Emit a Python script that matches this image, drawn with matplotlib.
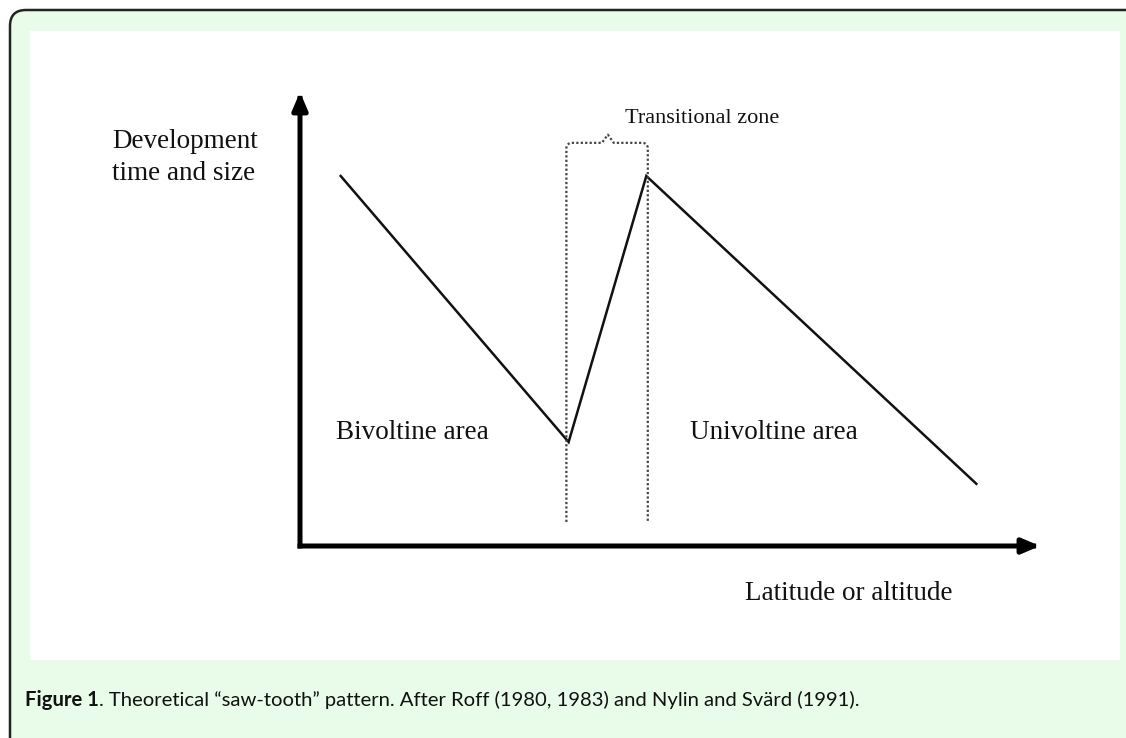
import numpy as np
import matplotlib
matplotlib.use("Agg")
from matplotlib import pyplot as plt
from matplotlib.patches import FancyBboxPatch, Rectangle

# saw-tooth curve (x = latitude/altitude, y = development time and size), arbitrary 0-100 units
saw_x = [5.5, 36.3, 46.8, 91.4]
saw_y = [81.5, 22.9, 81.5, 13.7]

# transitional zone limits and its dotted bracket
zone_x = [36.0, 47.0]
zone_bottom = 5.3
zone_top = 88.8

labels = {
    "ylab1": "Development",
    "ylab2": "time and size",
    "zone": "Transitional zone",
    "left": "Bivoltine area",
    "right": "Univoltine area",
    "xlab": "Latitude or altitude",
}
caption_bold = "Figure 1"
caption_rest = ". Theoretical \u201csaw-tooth\u201d pattern. After Roff (1980, 1983) and Nylin and Sv\u00e4rd (1991)."

W, H = 1126, 738
fig = plt.figure(figsize=(W / 100, H / 100), dpi=100, facecolor="white")

# background panel in pixel coordinates
bg = fig.add_axes([0, 0, 1, 1])
bg.set_xlim(0, W)
bg.set_ylim(H, 0)
bg.axis("off")
bg.add_patch(FancyBboxPatch((10, 10), 1300, 900,
                            boxstyle="round,pad=0,rounding_size=16",
                            fc="#E9FCE9", ec="#222222", lw=1.8))
bg.add_patch(Rectangle((30, 31), 1090, 629, fc="white", ec="none"))

serif = "Liberation Serif"
bg.text(112, 148, labels["ylab1"], fontsize=19.5, family=serif, va="baseline", color="#111")
bg.text(112, 180, labels["ylab2"], fontsize=19.5, family=serif, va="baseline", color="#111")
bg.text(625, 123, labels["zone"], fontsize=16, family=serif, va="baseline", color="#111")
bg.text(336, 439, labels["left"], fontsize=19.5, family=serif, va="baseline", color="#111")
bg.text(690, 439, labels["right"], fontsize=19.5, family=serif, va="baseline", color="#111")
bg.text(745, 600, labels["xlab"], fontsize=19.5, family=serif, va="baseline", color="#111")

# caption: bold part then regular part on the same baseline
t1 = bg.text(25, 706, caption_bold, fontsize=14.6, family="Lato", weight="bold",
             va="baseline", color="#111")
fig.canvas.draw()
x_end = t1.get_window_extent().x1
bg.text(x_end, 706, caption_rest, fontsize=14.6, family="Lato",
        va="baseline", ha="left", color="#111")

# chart area
ax = fig.add_axes([300 / W, (H - 546) / H, 740 / W, 454 / H])
ax.set_xlim(0, 100)
ax.set_ylim(0, 100)
ax.axis("off")
ax.patch.set_alpha(0)

arrow = dict(arrowstyle="-|>,head_length=0.75,head_width=0.32", lw=3.6,
             color="black", shrinkA=0, shrinkB=0, mutation_scale=14,
             capstyle="projecting")
ax.annotate("", xy=(0, 1), xytext=(0, 0), xycoords="axes fraction", arrowprops=arrow)
ax.annotate("", xy=(1, 0), xytext=(0, 0), xycoords="axes fraction", arrowprops=arrow)

ax.plot(saw_x, saw_y, color="#111", lw=1.8, solid_joinstyle="miter", clip_on=False)

# dotted bracket around the transitional zone
rx, ry = 0.7, 1.2
x0, x1 = zone_x
xm = (x0 + x1) / 2 + 0.1
t = np.linspace(0, np.pi / 2, 8)
bx = np.concatenate([[x0], x0 + rx - rx * np.cos(t),
                     [xm - 0.8, xm, xm + 0.8],
                     x1 - rx + rx * np.sin(t), [x1]])
by = np.concatenate([[zone_bottom], zone_top - ry + ry * np.sin(t),
                     [zone_top, zone_top + 1.8, zone_top],
                     zone_top - ry + ry * np.cos(t), [zone_bottom]])
ax.plot(bx, by, color="#444", lw=1.6, ls=(0, (1, 1)), clip_on=False)

fig.savefig("out.png", dpi=100, facecolor=fig.get_facecolor())
